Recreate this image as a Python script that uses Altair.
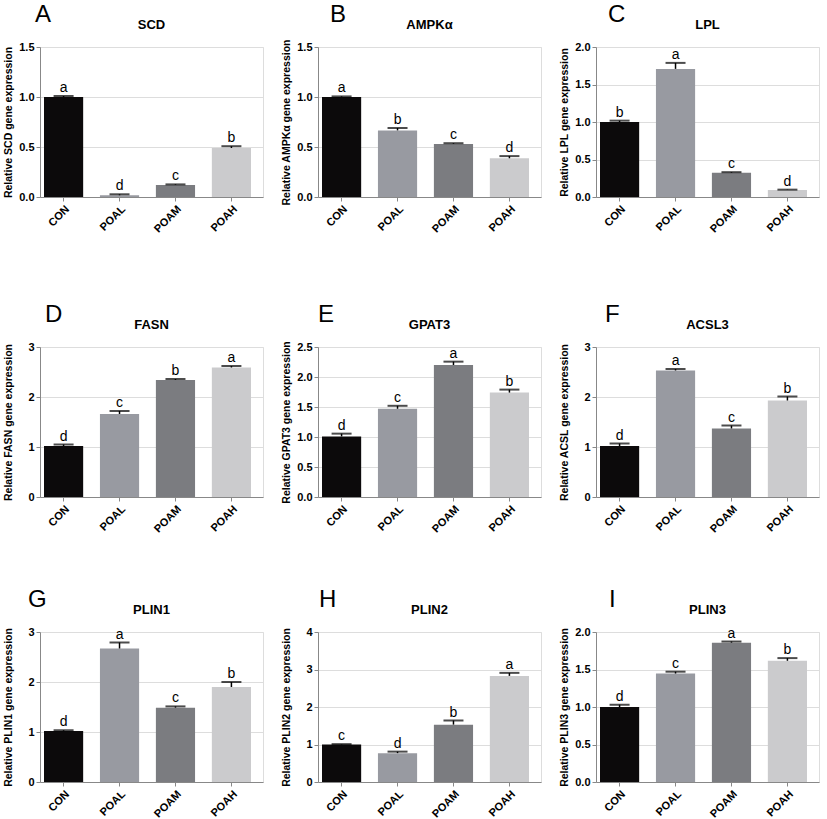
import altair as alt
import pandas as pd

groups = ["CON", "POAL", "POAM", "POAH"]
bar_colors = ["#0c0a0b", "#989aa1", "#7b7c80", "#cbcbcd"]

panel_letters = ["A", "B", "C", "D", "E", "F", "G", "H", "I"]
gene_names = ["SCD", "AMPKα", "LPL", "FASN", "GPAT3", "ACSL3", "PLIN1", "PLIN2", "PLIN3"]
y_titles = [
    "Relative SCD gene expression",
    "Relative AMPKα gene expression",
    "Relative LPL gene expression",
    "Relative FASN gene expression",
    "Relative GPAT3 gene expression",
    "Relative ACSL gene expression",
    "Relative PLIN1 gene expression",
    "Relative PLIN2 gene expression",
    "Relative PLIN3 gene expression",
]

scd_mean = [1.00, 0.017, 0.12, 0.49]
scd_se = [0.01, 0.01, 0.006, 0.018]
scd_sig = ["a", "d", "c", "b"]

ampk_mean = [1.00, 0.666, 0.531, 0.387]
ampk_se = [0.006, 0.024, 0.007, 0.022]
ampk_sig = ["a", "b", "c", "d"]

lpl_mean = [1.00, 1.708, 0.323, 0.094]
lpl_se = [0.018, 0.08, 0.008, 0.004]
lpl_sig = ["b", "a", "c", "d"]

fasn_mean = [1.02, 1.66, 2.34, 2.59]
fasn_se = [0.03, 0.06, 0.02, 0.03]
fasn_sig = ["d", "c", "b", "a"]

gpat3_mean = [1.01, 1.47, 2.20, 1.74]
gpat3_se = [0.046, 0.05, 0.056, 0.05]
gpat3_sig = ["d", "c", "a", "b"]

acsl3_mean = [1.02, 2.53, 1.37, 1.93]
acsl3_se = [0.05, 0.03, 0.06, 0.08]
acsl3_sig = ["d", "a", "c", "b"]

plin1_mean = [1.02, 2.67, 1.487, 1.90]
plin1_se = [0.015, 0.12, 0.025, 0.10]
plin1_sig = ["d", "a", "c", "b"]

plin2_mean = [1.00, 0.77, 1.53, 2.83]
plin2_se = [0.01, 0.04, 0.11, 0.08]
plin2_sig = ["c", "d", "b", "a"]

plin3_mean = [1.00, 1.446, 1.858, 1.616]
plin3_se = [0.03, 0.025, 0.015, 0.036]
plin3_sig = ["d", "c", "a", "b"]

y_max = [1.5, 1.5, 2.0, 3, 2.5, 3, 3, 4, 2.0]
y_ticks = [
    [0, 0.5, 1.0, 1.5],
    [0, 0.5, 1.0, 1.5],
    [0, 0.5, 1.0, 1.5, 2.0],
    [0, 1, 2, 3],
    [0, 0.5, 1.0, 1.5, 2.0, 2.5],
    [0, 1, 2, 3],
    [0, 1, 2, 3],
    [0, 1, 2, 3, 4],
    [0, 0.5, 1.0, 1.5, 2.0],
]
y_formats = [".1f", ".1f", ".1f", "d", ".1f", "d", "d", "d", ".1f"]
letter_dx = [-5, 12, 12, 5, 0, 9, -12, 1, 13]

all_means = [scd_mean, ampk_mean, lpl_mean, fasn_mean, gpat3_mean, acsl3_mean, plin1_mean, plin2_mean, plin3_mean]
all_se = [scd_se, ampk_se, lpl_se, fasn_se, gpat3_se, acsl3_se, plin1_se, plin2_se, plin3_se]
all_sig = [scd_sig, ampk_sig, lpl_sig, fasn_sig, gpat3_sig, acsl3_sig, plin1_sig, plin2_sig, plin3_sig]

FONT = "Liberation Sans"
W, H = 223, 150


def panel(i):
    mean = all_means[i]
    se = all_se[i]
    df = pd.DataFrame({
        "group": groups,
        "mean": mean,
        "upper": [m + s for m, s in zip(mean, se)],
        "sig": all_sig[i],
    })
    x = alt.X("group:N", sort=groups, title=None,
              scale=alt.Scale(paddingInner=0.3, paddingOuter=0.143, align=0.25),
              axis=alt.Axis(labelAngle=-45, labelFontSize=11, labelFontWeight="bold",
                            labelPadding=2, tickSize=4))
    yscale = alt.Scale(domain=[0, y_max[i]], nice=False, zero=True)
    yaxis = alt.Axis(values=y_ticks[i], format=y_formats[i], title=y_titles[i],
                     titleFontSize=10.5, titleFontWeight="bold", titlePadding=3,
                     labelFontSize=11, labelFontWeight="bold", tickSize=4,
                     minExtent=24, maxExtent=24)
    base = alt.Chart(df).encode(x=x)
    bars = base.mark_bar().encode(
        y=alt.Y("mean:Q", scale=yscale, axis=yaxis),
        color=alt.Color("group:N", scale=alt.Scale(domain=groups, range=bar_colors), legend=None),
    )
    rule = base.mark_rule(color="black", strokeWidth=1.5).encode(
        y=alt.Y("mean:Q", scale=yscale, axis=yaxis), y2="upper:Q")
    cap = base.mark_tick(color="black", thickness=2, size=20, orient="horizontal").encode(
        y=alt.Y("upper:Q", scale=yscale, axis=yaxis))
    sig = base.mark_text(baseline="bottom", dy=-1, fontSize=14, font=FONT, color="black").encode(
        y=alt.Y("upper:Q", scale=yscale, axis=yaxis), text="sig:N")
    gene = alt.Chart(pd.DataFrame({"t": [gene_names[i]]})).mark_text(
        fontWeight="bold", fontSize=13, font=FONT, color="black"
    ).encode(text="t:N", x=alt.value(W / 2), y=alt.value(-22))
    return alt.layer(bars, rule, cap, sig, gene).properties(
        width=W, height=H,
        title=alt.Title(panel_letters[i], anchor="start", frame="group", dx=letter_dx[i],
                        fontSize=24, fontWeight="normal", font=FONT, offset=-8),
    )


row1 = alt.hconcat(panel(0), panel(1), panel(2), spacing=16)
row2 = alt.hconcat(panel(3), panel(4), panel(5), spacing=16)
row3 = alt.hconcat(panel(6), panel(7), panel(8), spacing=16)

chart = alt.vconcat(row1, alt.vconcat(row2, row3, spacing=52), spacing=67).properties(
    padding={"left": 2, "top": 2, "right": 0, "bottom": 0}
).configure_view(stroke=None).configure_axis(
    grid=False, domainColor="black", domainWidth=1.5, tickColor="black", tickWidth=1.5,
    labelColor="black", titleColor="black", labelFont=FONT, titleFont=FONT,
).configure(background="white")

chart.save("out.html", embed_options={"renderer": "svg", "actions": False})
